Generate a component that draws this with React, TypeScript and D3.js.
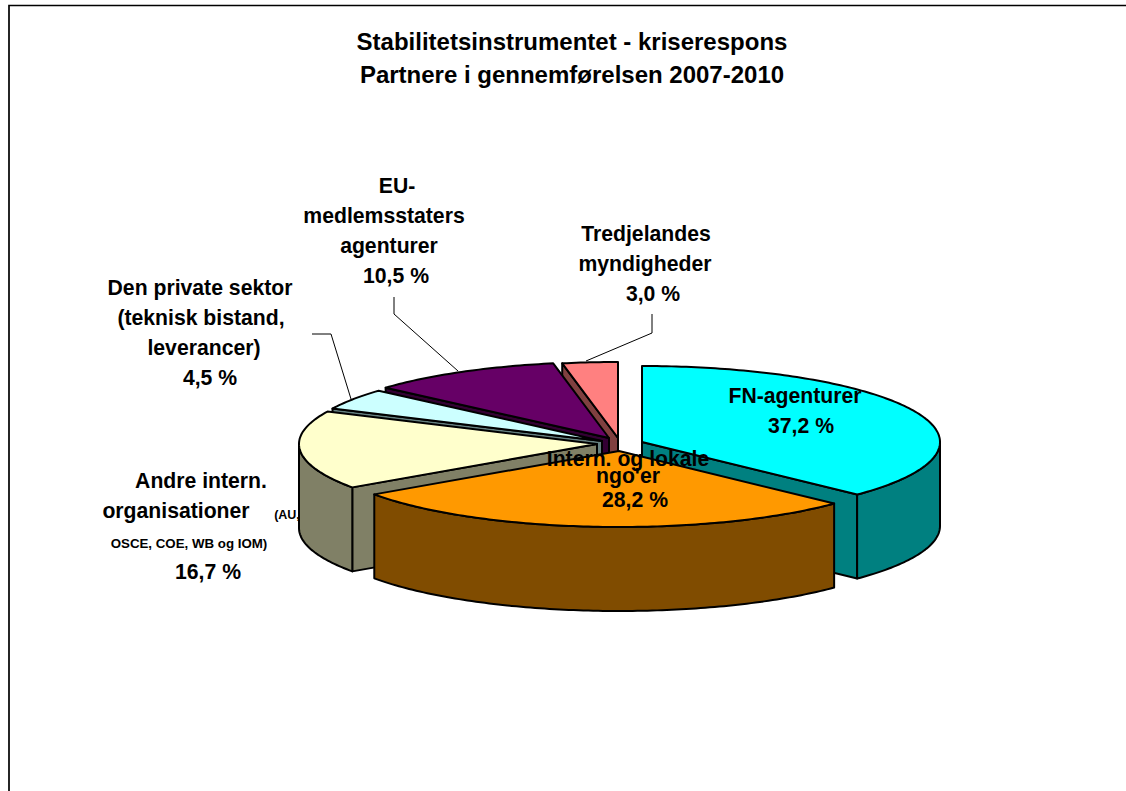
import React from "react";
import * as d3 from "d3";

const categories = ["FN-agenturer", "Intern. og lokale ngo'er", "Andre intern. organisationer", "Den private sektor", "EU-medlemsstaters agenturer", "Tredjelandes myndigheder"];
const shares = [37.2, 28.2, 16.7, 4.5, 10.5, 3.0];
const topColors = ["#00FFFF", "#FF9900", "#FFFFCC", "#CCFFFF", "#660066", "#FF8080"];
const sideColors = ["#008080", "#804C00", "#808066", "#668080", "#330033", "#804040"];
const titleLines = ["Stabilitetsinstrumentet - kriserespons", "Partnere i gennemførelsen 2007-2010"];

// explosion: apex of each slice on the page
const apexX = [642, 619, 597, 602, 609, 618];
const apexY = [442, 451, 444, 441, 438, 438];
const RX = 298, RY = 76, DEPTH = 84;
const paintOrder = [5, 4, 3, 2, 0, 1];

const FONT = "'Liberation Sans', Arial, sans-serif";

type Lab = { x: number; y: number; s: string; size?: number };
const labels: Lab[] = [
  { x: 795, y: 403, s: "FN-agenturer" },
  { x: 801, y: 433, s: "37,2 %" },
  { x: 628, y: 466, s: "Intern. og lokale" },
  { x: 628, y: 483, s: "ngo'er" },
  { x: 635, y: 507, s: "28,2 %" },
  { x: 201, y: 488, s: "Andre intern." },
  { x: 176, y: 518, s: "organisationer" },
  { x: 287, y: 519, s: "(AU,", size: 12.5 },
  { x: 189, y: 548, s: "OSCE, COE, WB og IOM)", size: 13.3 },
  { x: 208, y: 579, s: "16,7 %" },
  { x: 200, y: 295, s: "Den private sektor" },
  { x: 201, y: 325, s: "(teknisk bistand," },
  { x: 204, y: 355, s: "leverancer)" },
  { x: 210, y: 385, s: "4,5 %" },
  { x: 397, y: 193, s: "EU-" },
  { x: 384, y: 223, s: "medlemsstaters" },
  { x: 389, y: 253, s: "agenturer" },
  { x: 396, y: 283, s: "10,5 %" },
  { x: 646, y: 241, s: "Tredjelandes" },
  { x: 645, y: 271, s: "myndigheder" },
  { x: 653, y: 301, s: "3,0 %" },
];
const leaders: [number, number][][] = [
  [[312, 334], [331, 334], [351, 399]],
  [[394, 297], [394, 314], [458, 371]],
  [[652, 314], [652, 333], [586, 361]],
];

export default function App() {
  const arcs = d3.pie<number>().sort(null).value((d) => d)(shares);
  const line = d3.line();
  const rim = (i: number, a: number, dy = 0): [number, number] => [
    apexX[i] + RX * Math.sin(a),
    apexY[i] - RY * Math.cos(a) + dy,
  ];
  const rimPts = (i: number, a0: number, a1: number, dy = 0) => {
    const n = Math.max(2, Math.ceil(Math.abs(a1 - a0) * 60));
    return d3.range(n + 1).map((k) => rim(i, a0 + ((a1 - a0) * k) / n, dy));
  };
  const common = { stroke: "#000", strokeWidth: 2, strokeLinejoin: "round" as const };
  return (
    <svg width={1126} height={791} style={{ position: "absolute", left: 0, top: 0 }}>
      <rect x={0} y={0} width={1126} height={791} fill="#fff" />
      <path d="M9,791V5.5H1126" fill="none" stroke="#000" strokeWidth={1.7} />
      {titleLines.map((t, i) => (
        <text key={t} x={572} y={50 + i * 33} textAnchor="middle" fontFamily={FONT} fontWeight="bold" fontSize={24}>{t}</text>
      ))}
      {paintOrder.map((i) => {
        const { startAngle: a0, endAngle: a1 } = arcs[i];
        const apex: [number, number] = [apexX[i], apexY[i]];
        const apexLow: [number, number] = [apexX[i], apexY[i] + DEPTH];
        const faces: [number, number][][] = [];
        if (Math.sin(a0) < -1e-6) faces.push([apex, rim(i, a0), rim(i, a0, DEPTH), apexLow]);
        if (Math.sin(a1) > 1e-6) faces.push([apex, rim(i, a1), rim(i, a1, DEPTH), apexLow]);
        const w0 = Math.max(a0, Math.PI / 2), w1 = Math.min(a1, (3 * Math.PI) / 2);
        const wall = w1 > w0 ? [...rimPts(i, w0, w1), ...rimPts(i, w1, w0, DEPTH)] : null;
        const top = [apex, ...rimPts(i, a0, a1)];
        return (
          <g key={categories[i]}>
            {faces.map((f, k) => <path key={k} d={line(f) + "Z"} fill={sideColors[i]} {...common} />)}
            {wall && <path d={line(wall) + "Z"} fill={sideColors[i]} {...common} />}
            <path d={line(top) + "Z"} fill={topColors[i]} {...common} />
          </g>
        );
      })}
      {leaders.map((l, i) => <path key={i} d={line(l) ?? ""} fill="none" stroke="#000" strokeWidth={1} />)}
      {labels.map((l, i) => (
        <text key={i} x={l.x} y={l.y} textAnchor="middle" fontFamily={FONT} fontWeight="bold" fontSize={l.size ?? 21.2}>{l.s}</text>
      ))}
    </svg>
  );
}
